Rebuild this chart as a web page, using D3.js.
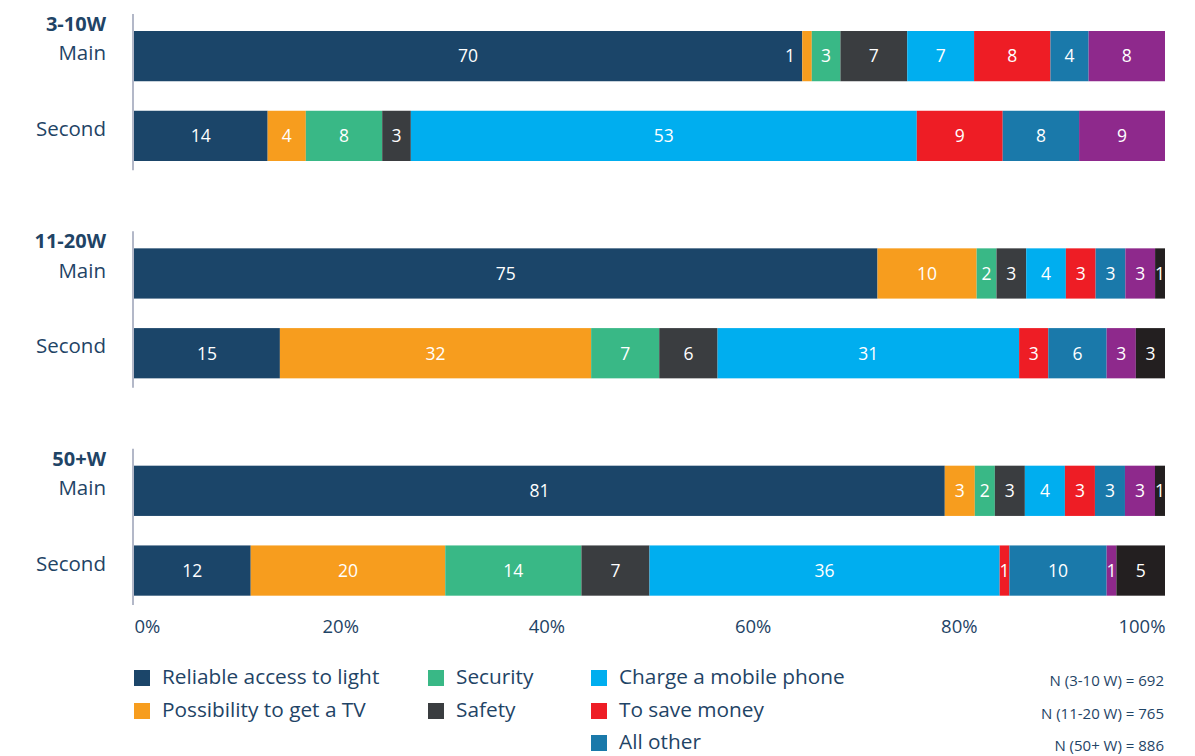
<!DOCTYPE html>
<html>
<head>
<meta charset="utf-8">
<script src="https://cdn.jsdelivr.net/npm/d3@7/dist/d3.min.js"></script>
<style>
  html, body { margin: 0; padding: 0; background: #fff; }
  svg { display: block; font-family: "Open Sans", Lato, sans-serif; }
</style>
</head>
<body>
<svg id="chart" width="1195" height="756"></svg>
<script>
// System size groups and the two answer rows per group
const groups = ["3-10W", "11-20W", "50+W"];
const rowTypes = ["Main", "Second"];

// Reasons (stack order) and the share of answers per row:
// [3-10W Main, 3-10W Second, 11-20W Main, 11-20W Second, 50+W Main, 50+W Second]
const reasons = [
  "Reliable access to light", "Possibility to get a TV", "Security", "Safety",
  "Charge a mobile phone", "To save money", "All other", "Other reason", "No reason given"
];
const reliableLight = [70, 14, 75, 15, 81, 12];
const getTV        = [1, 4, 10, 32, 3, 20];
const security     = [3, 8, 2, 7, 2, 14];
const safety       = [7, 3, 3, 6, 3, 7];
const chargePhone  = [7, 53, 4, 31, 4, 36];
const saveMoney    = [8, 9, 3, 3, 3, 1];
const allOther     = [4, 8, 3, 6, 3, 10];
const otherReason  = [8, 9, 3, 3, 3, 1];
const noReason     = [0, 0, 1, 3, 1, 5];

const xTicks = [0, 0.2, 0.4, 0.6, 0.8, 1];
const legendReasons = reasons.slice(0, 7);
const sampleNotes = ["N (3-10 W) = 692", "N (11-20 W) = 765", "N (50+ W) = 886"];

const seriesValues = [reliableLight, getTV, security, safety, chargePhone,
                      saveMoney, allOther, otherReason, noReason];
const colors = ["#1b4569", "#f79d1e", "#39b886", "#3a3d40", "#00aeef",
                "#ee1d25", "#1a79aa", "#8e298c", "#231f20"];

// Build a table: one record per bar
const rows = [];
groups.forEach((g, gi) => rowTypes.forEach((t, ti) => {
  const i = gi * 2 + ti;
  const rec = { group: g, type: t };
  reasons.forEach((r, k) => rec[r] = seriesValues[k][i]);
  rows.push(rec);
}));

const textColor = "#1f4466";
const svg = d3.select("#chart");

const x = d3.scaleLinear().domain([0, 1]).range([134, 1165]);
const color = d3.scaleOrdinal().domain(reasons).range(colors);

const yGroup = d3.scaleBand().domain(groups).range([16, 605]).paddingInner(0.29);
const yRow = d3.scaleBand().domain(rowTypes).range([15, 145]).paddingInner(0.37);

// Normalise each bar to 100% of its answers
const stacked = d3.stack().keys(reasons).offset(d3.stackOffsetExpand)(rows);

// Labels that sit outside their thin segment
const labelShift = { "3-10W|Main|Possibility to get a TV": -17 };

const gGroups = svg.selectAll("g.grp").data(groups).join("g")
  .attr("class", "grp")
  .attr("transform", g => `translate(0,${yGroup(g)})`);

// Axis line per group
gGroups.append("line")
  .attr("x1", x(0) - 1).attr("x2", x(0) - 1)
  .attr("y1", -2).attr("y2", yGroup.bandwidth())
  .attr("stroke", "#b3b8c8").attr("stroke-width", 2);

// Group title and row labels
gGroups.append("text")
  .attr("x", 106).attr("y", 8).attr("dy", "0.35em")
  .attr("text-anchor", "end").attr("font-size", 20).attr("font-weight", 700)
  .attr("fill", textColor).text(g => g);

gGroups.each(function () {
  const gg = d3.select(this);
  rowTypes.forEach(t => {
    gg.append("text")
      .attr("x", 106)
      .attr("y", t === "Main" ? 37 : yRow(t) + yRow.bandwidth() / 2 - 7)
      .attr("dy", "0.35em")
      .attr("text-anchor", "end").attr("font-size", 20.5)
      .attr("fill", textColor).text(t);
  });
});

const barY = d => yGroup(d.data.group) + yRow(d.data.type);

// Segments
stacked.forEach(layer => {
  const key = layer.key;
  svg.append("g").selectAll("rect").data(layer.filter(d => d.data[key] > 0)).join("rect")
    .attr("x", d => x(d[0]))
    .attr("width", d => x(d[1]) - x(d[0]))
    .attr("y", barY)
    .attr("height", yRow.bandwidth())
    .attr("fill", color(key));
});

// Value labels
stacked.forEach(layer => {
  const key = layer.key;
  svg.append("g").selectAll("text").data(layer.filter(d => d.data[key] > 0)).join("text")
    .attr("x", d => (x(d[0]) + x(d[1])) / 2 + (labelShift[`${d.data.group}|${d.data.type}|${key}`] || 0))
    .attr("y", d => barY(d) + yRow.bandwidth() / 2)
    .attr("dy", "0.36em")
    .attr("text-anchor", "middle")
    .attr("font-size", 17.5)
    .attr("fill", "#ffffff")
    .text(d => d.data[key]);
});

// Bottom percentage axis
const axis = svg.append("g").attr("transform", "translate(0,616)")
  .call(d3.axisBottom(x).tickValues(xTicks).tickFormat(d3.format(".0%")).tickSize(0).tickPadding(0));
axis.select(".domain").remove();
axis.selectAll("text")
  .attr("font-size", 18.5).attr("fill", textColor)
  .attr("font-family", "'Open Sans', Lato, sans-serif")
  .attr("dy", "0.9em")
  .attr("text-anchor", (d, i) => i === 0 ? "start" : i === xTicks.length - 1 ? "end" : "middle");

// Legend (three columns)
const legendCols = [[0, 1], [2, 3], [4, 5, 6]];
const colX = [134, 428, 591];
const rowY = [678, 711, 743];
legendCols.forEach((col, ci) => col.forEach((ri, k) => {
  const name = legendReasons[ri];
  const lg = svg.append("g").attr("transform", `translate(${colX[ci]},${rowY[k]})`);
  lg.append("rect").attr("x", 0).attr("y", -8).attr("width", 16).attr("height", 16)
    .attr("fill", color(name));
  lg.append("text").attr("x", 28).attr("y", -1).attr("dy", "0.35em")
    .attr("font-size", 20.8).attr("fill", textColor).text(name);
}));

// Sample sizes
svg.append("g").selectAll("text").data(sampleNotes).join("text")
  .attr("x", 1164).attr("y", (d, i) => rowY[i] + 3).attr("dy", "0.35em")
  .attr("text-anchor", "end").attr("font-size", 15).attr("fill", textColor)
  .text(d => d);
</script>
</body>
</html>
